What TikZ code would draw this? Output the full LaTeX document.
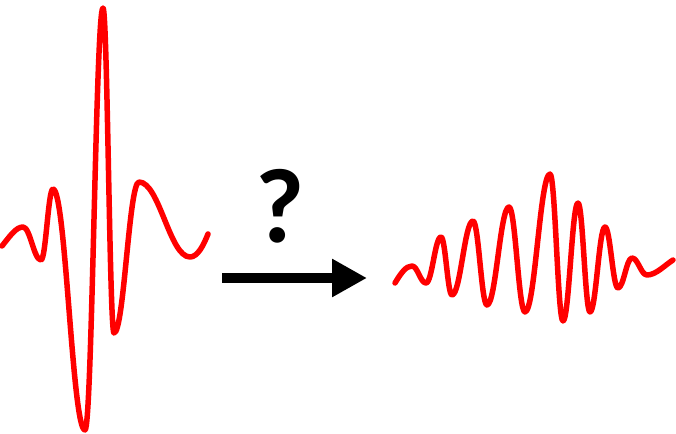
\documentclass[tikz,border=0pt]{standalone}
\usepackage{fontspec}
\setmainfont{Carlito}
\usetikzlibrary{arrows.meta}
\begin{document}
\begin{tikzpicture}[x=1pt, y=-1pt]
    \tikzstyle{wave} = [red, line width=5.5pt, line cap=round, line join=round]
    \tikzstyle{arrow} = [line width=10pt, -{Triangle[length=35pt,width=36pt]}]

    \useasboundingbox (0,0) rectangle (676,433);

    % Input wavelet
    \draw [wave] (2,246) .. controls (10,236) and (16,227) .. (23,227)
        \foreach \x/\y [remember=\x as \px (initially 23), remember=\y as \py (initially 227)] in
            {41/260, 53/189, 85/430, 103/8, 114/333, 139/182, 190/257}
            { .. controls ({\px+0.4*(\x-\px)},\py) and ({\x-0.4*(\x-\px)},\y) .. (\x,\y) }
        .. controls (198,257) and (204,244) .. (208,234);

    % Output wave packet
    \draw [wave] (395,283) .. controls (401,273) and (406,266) .. (412,266)
        \foreach \x/\y [remember=\x as \px (initially 412), remember=\y as \py (initially 266)] in
            {426/283, 441/237, 452/295, 473/221, 487/305, 509/207, 525/312, 550/174,
             563/321, 578/203, 590/312, 605/227, 618/288, 632/258, 647/275}
            { .. controls ({\px+0.4*(\x-\px)},\py) and ({\x-0.4*(\x-\px)},\y) .. (\x,\y) }
        .. controls (656,275) and (665,265) .. (673,260);

    % Arrow with question mark
    \coordinate (tail) at (222,278);
    \coordinate (tip) at (367,278);
    \draw [arrow] (tail) -- (tip);
    \node [font=\fontsize{106}{106}\selectfont\bfseries] (quest) at (280,206) {?};
\end{tikzpicture}
\end{document}
